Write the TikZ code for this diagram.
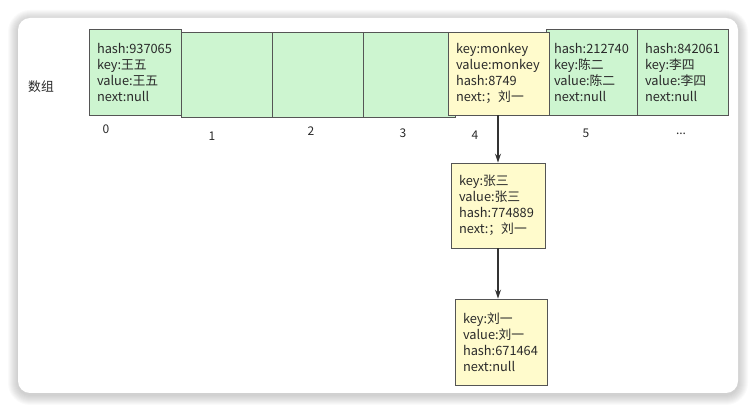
\documentclass[tikz,border=0pt]{standalone}
\usepackage{fontspec}
\setmainfont{Noto Sans CJK SC}
\usetikzlibrary{arrows.meta}
\definecolor{cellgreen}{HTML}{CDF5D0}
\definecolor{cellyellow}{HTML}{FFFBCC}
\definecolor{lineclr}{HTML}{555555}
\definecolor{txtclr}{HTML}{2A2A2A}

\begin{document}
\begin{tikzpicture}[x=1pt, y=-1pt,
        every node/.style={font=\fontsize{12.8}{16}\selectfont, text=txtclr},
        slot/.style={draw=lineclr, line width=0.8pt, fill=cellgreen, rectangle,
            minimum width=#1, minimum height=86pt, inner xsep=8pt, inner ysep=0pt,
            text width=#1-16pt, align=left},
        entry/.style={slot=#1, fill=cellyellow},
        idx/.style={font=\fontsize{12}{14}\selectfont},
        link/.style={-{Stealth[length=9pt,width=6pt]}, line width=1.4pt, draw=black!80}]

    \useasboundingbox (0,0) rectangle (756,411);
    \foreach \s in {1,...,10}
        \fill[black, opacity=0.018, rounded corners=12pt+\s pt]
            (18-\s,18-\s+2) rectangle (738+\s,393+\s+2);
    \fill[white, rounded corners=12pt] (18,18) rectangle (738,393);

    \node at (41,87) {数组};

    \node[slot=92pt, minimum height=86pt] (b0) at (135,72)
        {hash:937065\\key:王五\\value:王五\\next:null};
    \node[slot=91pt, minimum height=85pt] (b1) at (226.5,74.5) {};
    \node[slot=91pt, minimum height=85pt] (b2) at (317.5,74.5) {};
    \node[slot=92pt, minimum height=85pt] (b3) at (409,74.5) {};
    \node[slot=91pt] (b5) at (591.5,72)
        {hash:212740\\key:陈二\\value:陈二\\next:null};
    \node[slot=91pt] (b6) at (682.5,72)
        {hash:842061\\key:李四\\value:李四\\next:null};
    \node[entry=101pt, minimum height=83pt] (b4) at (498.5,73.5)
        {key:monkey\\value:monkey\\hash:8749\\next:；刘一};

    \node[entry=94pt, minimum height=85pt] (e1) at (498,205.5)
        {key:张三\\value:张三\\hash:774889\\next:；刘一};
    \node[entry=92pt] (e2) at (501,342)
        {key:刘一\\value:刘一\\hash:671464\\next:null};

    \node[idx] (i0) at (106,129) {0};
    \node[idx] (i1) at (212,136) {1};
    \node[idx] (i2) at (311,131) {2};
    \node[idx] (i3) at (403,133) {3};
    \node[idx] (i4) at (475,135) {4};
    \node[idx] (i5) at (586,133) {5};
    \node[idx] (i6) at (681,134) {...};

    \draw[link] (b4.south -| e1.north) -- (e1.north);
    \draw[link] (e1.south) -- (e1.south |- e2.north);
\end{tikzpicture}
\end{document}
